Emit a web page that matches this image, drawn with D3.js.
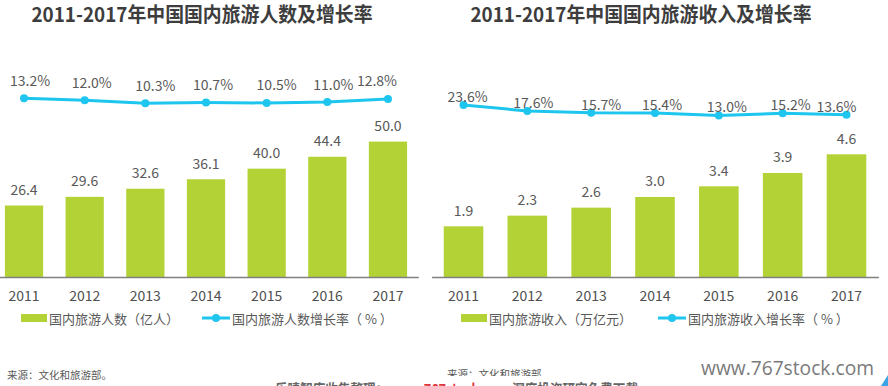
<!DOCTYPE html>
<html>
<head>
<meta charset="utf-8">
<script src="https://cdn.jsdelivr.net/npm/d3@7"></script>
<style>
  body { margin: 0; background: #fff; }
  svg { display: block; font-family: "Noto Sans CJK SC", "Noto Sans", sans-serif; }
</style>
</head>
<body>
<script>
// datos
const years = ['2011', '2012', '2013', '2014', '2015', '2016', '2017'];

const tourists     = [26.4, 29.6, 32.6, 36.1, 40.0, 44.4, 50.0];   // 亿人
const touristGrowth = [13.2, 12.0, 10.3, 10.7, 10.5, 11.0, 12.8];  // %
const revenue      = [1.9, 2.3, 2.6, 3.0, 3.4, 3.9, 4.6];          // 万亿元
const revenueGrowth = [23.6, 17.6, 15.7, 15.4, 13.0, 15.2, 13.6];  // %

const titles  = ['2011-2017年中国国内旅游人数及增长率', '2011-2017年中国国内旅游收入及增长率'];
const barKeys = ['国内旅游人数（亿人）', '国内旅游收入（万亿元）'];
const lineKeys = ['国内旅游人数增长率（ % ）', '国内旅游收入增长率（ % ）'];
const source = '来源：文化和旅游部。';

const WIDTH = 888, HEIGHT = 386;
const GREEN = '#b2d235', CYAN = '#1ec6ef';

const svg = d3.select('body').append('svg')
    .attr('width', WIDTH)
    .attr('height', HEIGHT);

// un panel por grafico
const panels = [
  { title: titles[0], titleX: 202, bars: tourists, growth: touristGrowth,
    xRange: [-6.3, 418.3], pad: 0.37,
    yBar: d3.scaleLinear().domain([0, 50]).range([277, 141.6]),
    yLine: d3.scaleLinear().domain([0, 20]).range([121, 86.6]),
    lineDy: -12.5, labelDx: [6, 7, 10, 7, 10, 6, -11],
    legendX: 21, legendLineX: 202, barKey: barKeys[0], lineKey: lineKeys[0] },
  { title: titles[1], titleX: 641, bars: revenue, growth: revenueGrowth,
    xRange: [431.6, 878.4], pad: 0.38,
    yBar: d3.scaleLinear().domain([0, 4.6]).range([277, 154.3]),
    yLine: d3.scaleLinear().domain([0, 30]).range([128, 98.9]),
    lineDy: -3, labelDx: [4, 6, 10, 7, 8, 8, -10],
    legendX: 461, legendLineX: 658, barKey: barKeys[1], lineKey: lineKeys[1] }
];

panels.forEach(p => {
  const g = svg.append('g');

  g.append('text')
      .attr('x', p.titleX).attr('y', 22)
      .attr('text-anchor', 'middle')
      .attr('font-size', 20).attr('font-weight', 700)
      .attr('fill', '#3d3d3d')
      .attr('textLength', 341).attr('lengthAdjust', 'spacingAndGlyphs')
      .text(p.title);

  const x = d3.scaleBand()
      .domain(years)
      .range(p.xRange)
      .paddingInner(p.pad)
      .paddingOuter(p.pad / 2);

  // barras
  g.selectAll('rect.bar')
    .data(p.bars)
    .join('rect')
      .attr('class', 'bar')
      .attr('x', (d, i) => x(years[i]))
      .attr('width', x.bandwidth())
      .attr('y', d => p.yBar(d))
      .attr('height', d => p.yBar(0) - p.yBar(d))
      .attr('fill', GREEN);

  g.selectAll('text.barlabel')
    .data(p.bars)
    .join('text')
      .attr('class', 'barlabel')
      .attr('x', (d, i) => x(years[i]) + x.bandwidth() / 2)
      .attr('y', d => p.yBar(d) - 10.5)
      .attr('text-anchor', 'middle')
      .attr('font-size', 14)
      .attr('fill', '#595959')
      .text(d => d.toFixed(1));

  // eje x
  const axis = g.append('g')
      .attr('transform', `translate(0,${p.yBar(0)})`)
      .call(d3.axisBottom(x).tickSize(0).tickPadding(14));
  axis.select('.domain').attr('stroke', '#808080').attr('stroke-width', 1.3);
  axis.selectAll('text')
      .attr('font-size', 14)
      .attr('font-weight', 400)
      .attr('fill', '#505050')
      .attr('font-family', '"Noto Sans CJK SC", "Noto Sans", sans-serif');

  // linea de crecimiento
  const cx = (d, i) => x(years[i]) + x.bandwidth() / 2;
  const line = d3.line()
      .x(cx)
      .y(d => p.yLine(d));

  g.append('path')
      .datum(p.growth)
      .attr('d', line)
      .attr('fill', 'none')
      .attr('stroke', CYAN)
      .attr('stroke-width', 3);

  g.selectAll('circle.dot')
    .data(p.growth)
    .join('circle')
      .attr('class', 'dot')
      .attr('cx', cx)
      .attr('cy', d => p.yLine(d))
      .attr('r', 4)
      .attr('fill', CYAN);

  g.selectAll('text.linelabel')
    .data(p.growth)
    .join('text')
      .attr('class', 'linelabel')
      .attr('x', (d, i) => cx(d, i) + p.labelDx[i])
      .attr('y', d => p.yLine(d) + p.lineDy)
      .attr('text-anchor', 'middle')
      .attr('font-size', 14)
      .attr('fill', '#595959')
      .text(d => d.toFixed(1) + '%');

  // leyenda
  const ly = 318;
  g.append('rect')
      .attr('x', p.legendX).attr('y', ly - 4)
      .attr('width', 26).attr('height', 8)
      .attr('fill', GREEN);
  g.append('text')
      .attr('x', p.legendX + 28).attr('y', ly + 6)
      .attr('font-size', 13).attr('fill', '#595959')
      .text(p.barKey);

  g.append('line')
      .attr('x1', p.legendLineX).attr('x2', p.legendLineX + 28)
      .attr('y1', ly).attr('y2', ly)
      .attr('stroke', CYAN).attr('stroke-width', 3);
  g.append('circle')
      .attr('cx', p.legendLineX + 14).attr('cy', ly)
      .attr('r', 4).attr('fill', CYAN);
  g.append('text')
      .attr('x', p.legendLineX + 30).attr('y', ly + 6)
      .attr('font-size', 13).attr('fill', '#595959')
      .text(p.lineKey);
});

// fuentes
svg.append('text')
    .attr('x', 7).attr('y', 379)
    .attr('font-size', 10.5).attr('fill', '#595959')
    .text(source);

svg.append('clipPath').attr('id', 'cut')
  .append('rect').attr('x', 440).attr('y', 0).attr('width', 300).attr('height', 376);
svg.append('text')
    .attr('x', 447).attr('y', 378)
    .attr('clip-path', 'url(#cut)')
    .attr('font-size', 10.5).attr('fill', '#595959')
    .text('来源：文化和旅游部.');

// marca de agua
svg.append('text')
    .attr('x', 701).attr('y', 375)
    .attr('font-family', '"Open Sans", sans-serif')
    .attr('font-size', 20).attr('fill', '#7a7a7a')
    .attr('textLength', 173).attr('lengthAdjust', 'spacingAndGlyphs')
    .text('www.767stock.com');

const wm = svg.append('text')
    .attr('x', 275).attr('y', 395)
    .attr('font-size', 15).attr('font-weight', 700).attr('fill', '#666')
    .attr('textLength', 363).attr('lengthAdjust', 'spacingAndGlyphs');
wm.append('tspan').text('乐晴智库收集整理：');
wm.append('tspan').attr('fill', '#e0343a').text('www.767stock.com ');
wm.append('tspan').text('深度投资研究免费下载');

svg.append('polygon')
    .attr('points', '881,386 888,375 888,386')
    .attr('fill', '#3aa3e3');
</script>
</body>
</html>
